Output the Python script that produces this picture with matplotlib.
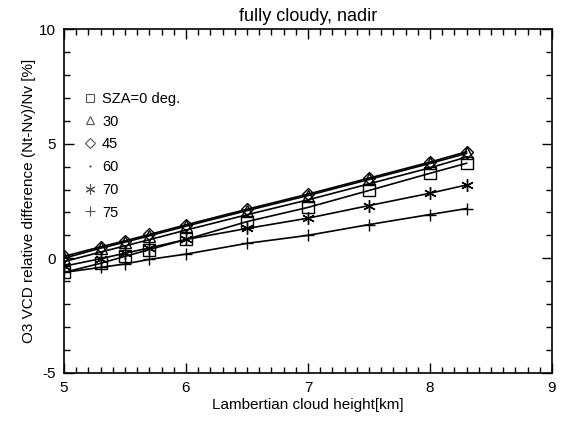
import matplotlib
matplotlib.use("Agg")
import matplotlib.pyplot as plt
from matplotlib.lines import Line2D
from matplotlib.ticker import MultipleLocator

plt.rcParams['font.family'] = ['Liberation Sans', 'DejaVu Sans']
plt.rcParams['axes.unicode_minus'] = False

heights = [5.0, 5.3, 5.5, 5.7, 6.0, 6.5, 7.0, 7.5, 8.0, 8.3]
sza0 = [-0.62, -0.22, 0.08, 0.38, 0.82, 1.60, 2.22, 2.96, 3.71, 4.15]
sza30 = [0.00, 0.44, 0.70, 0.98, 1.40, 2.08, 2.74, 3.44, 4.14, 4.58]
sza45 = [0.08, 0.50, 0.76, 1.04, 1.46, 2.14, 2.80, 3.50, 4.20, 4.65]
sza60 = [-0.15, 0.27, 0.54, 0.81, 1.23, 1.90, 2.55, 3.25, 3.95, 4.42]
sza70 = [-0.35, -0.02, 0.22, 0.45, 0.82, 1.30, 1.75, 2.30, 2.84, 3.20]
sza75 = [-0.62, -0.40, -0.25, -0.05, 0.18, 0.65, 1.00, 1.47, 1.91, 2.17]

labels = ['SZA=0 deg.', '30', '45', '60', '70', '75']
series = [sza0, sza30, sza45, sza60, sza70, sza75]
asterisk = (6, 2, 0)
markers = ['s', '^', 'D', '.', asterisk, '+']
msizes = [8, 8, 6, 2, 9, 9]

fig = plt.figure(figsize=(5.74, 4.21), dpi=100)
ax = fig.add_axes([64/574, 1-372.7/421, 488/574, 343.4/421])

for vals, m, ms in zip(series, markers, msizes):
    ax.plot(heights, vals, color='black', lw=1.2, marker=m, ms=ms,
            mfc='none', mec='black', mew=1.0)

ax.set_xlim(5, 9)
ax.set_ylim(-5, 10)
ax.xaxis.set_major_locator(MultipleLocator(1))
ax.xaxis.set_minor_locator(MultipleLocator(0.1))
ax.yaxis.set_major_locator(MultipleLocator(5))
ax.yaxis.set_minor_locator(MultipleLocator(1))
ax.tick_params(which='both', direction='in', top=True, right=True, width=1.0,
               labelsize=11, pad=6)
ax.tick_params(which='major', length=7)
ax.tick_params(which='minor', length=4)
for s in ax.spines.values():
    s.set_linewidth(1.2)

ax.set_title('fully cloudy, nadir', fontsize=13, pad=6)
ax.set_xlabel('Lambertian cloud height[km]', fontsize=11, labelpad=2)
ax.set_ylabel('O3 VCD relative difference (Nt-Nv)/Nv [%]', fontsize=11, labelpad=2)

handles = [Line2D([], [], ls='none', marker=m, ms=ms*0.8, mfc='none',
                  mec='#555555', mew=0.8) for m, ms in zip(markers, msizes)]
ax.legend(handles, labels, loc='upper left', bbox_to_anchor=(0.03, 0.835),
          frameon=False, fontsize=10.5, handlelength=0.8, handletextpad=0.4,
          labelspacing=0.6, borderaxespad=0)

fig.savefig('out.png', dpi=100)
